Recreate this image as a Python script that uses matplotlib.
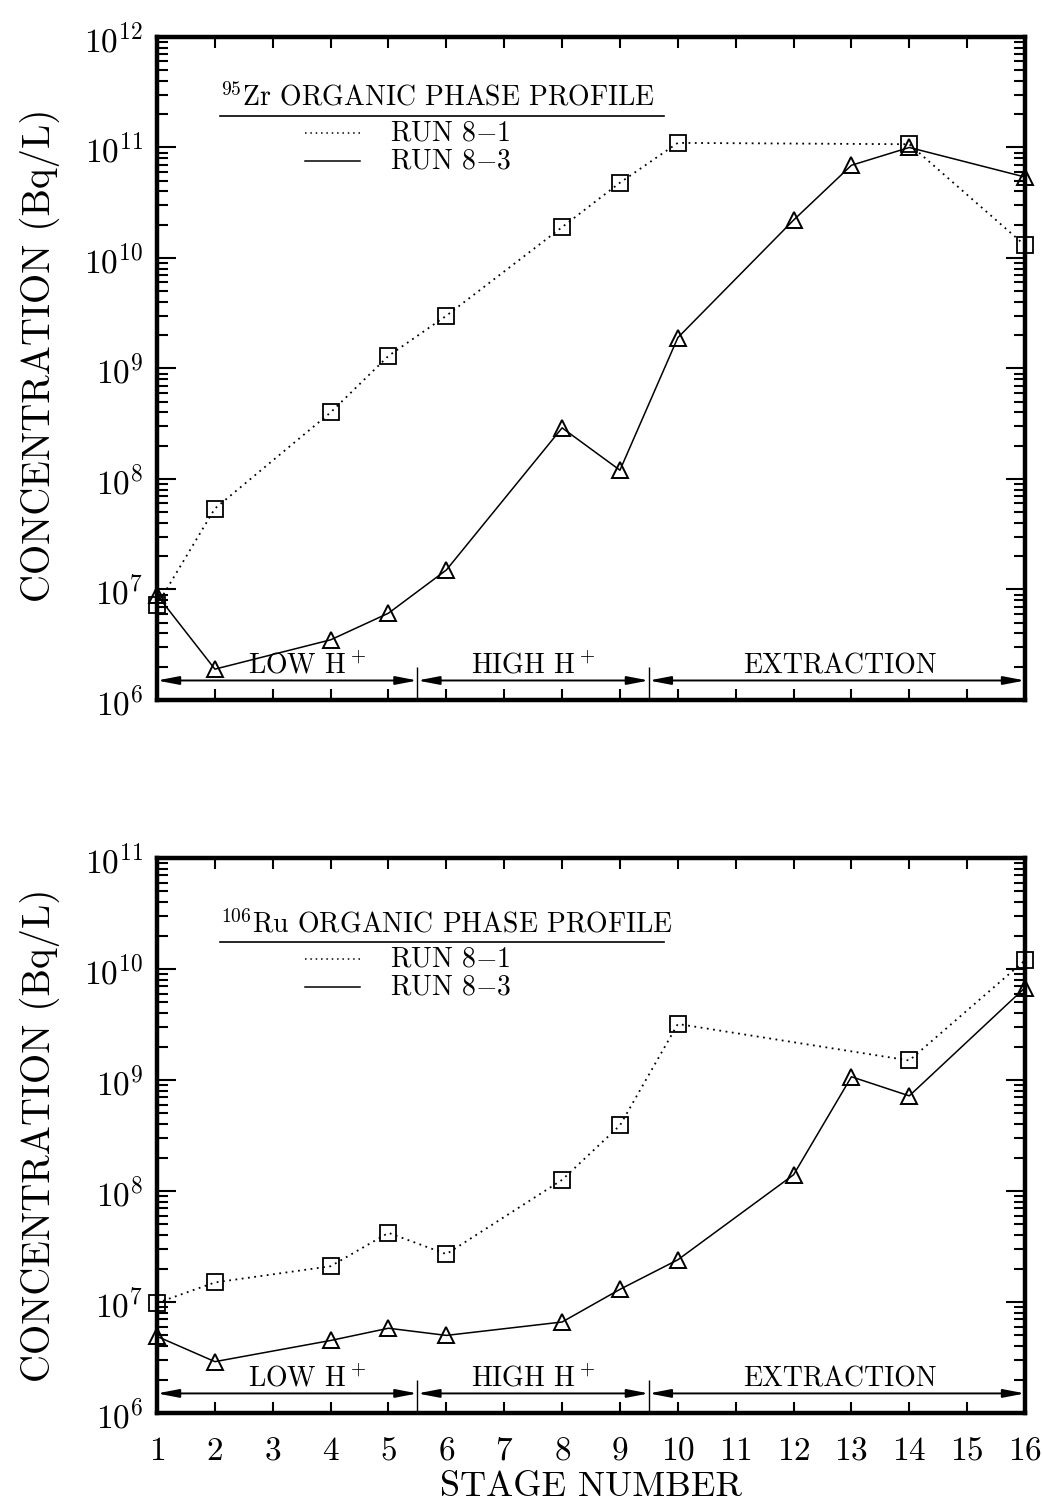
import matplotlib
matplotlib.use('Agg')
import matplotlib.pyplot as plt
from matplotlib.ticker import LogLocator, LogFormatterMathtext, NullFormatter, FixedLocator

plt.rcParams['font.family'] = 'cmr10'
plt.rcParams['mathtext.fontset'] = 'cm'
plt.rcParams['axes.unicode_minus'] = False
plt.rcParams['axes.formatter.use_mathtext'] = True

# stages that were sampled in each run
stages_81 = [1, 2, 4, 5, 6, 8, 9, 10, 14, 16]
stages_83 = [1, 2, 4, 5, 6, 8, 9, 10, 12, 13, 14, 16]

# 95Zr organic phase (Bq/L)
zr_81 = [7.2e6, 5.4e7, 4.0e8, 1.3e9, 3.0e9, 1.9e10, 4.8e10, 1.1e11, 1.07e11, 1.3e10]
zr_83 = [8.9e6, 1.9e6, 3.5e6, 6.1e6, 1.5e7, 2.9e8, 1.2e8, 1.9e9, 2.2e10, 6.9e10, 1.0e11, 5.4e10]

# 106Ru organic phase (Bq/L)
ru_81 = [9.8e6, 1.5e7, 2.1e7, 4.2e7, 2.7e7, 1.26e8, 3.9e8, 3.2e9, 1.5e9, 1.2e10]
ru_83 = [4.9e6, 2.9e6, 4.5e6, 5.8e6, 5.0e6, 6.6e6, 1.3e7, 2.4e7, 1.4e8, 1.07e9, 7.2e8, 6.8e9]

region_names = ['LOW H$^+$', 'HIGH H$^+$', 'EXTRACTION']
region_edges = [1, 5.5, 9.5, 16]
region_label_x = [3.6, 7.5, 12.8]
region_y = 1.5e6

stage_ticks = list(range(1, 17))
run_labels = ['RUN 8$-$1', 'RUN 8$-$3']


def draw_panel(ax, run81, run83, title, ytop, leg_y, ylab_y):
    ax.plot(stages_81, run81, color='k', ls=(0, (1, 2.5)), lw=1.3,
            marker='s', ms=11, mfc='none', mec='k', mew=1.3, clip_on=False)
    ax.plot(stages_83, run83, color='k', ls='-', lw=1.1,
            marker='^', ms=11, mfc='none', mec='k', mew=1.4, clip_on=False)

    ax.set_yscale('log')
    ax.set_xlim(1, 16)
    ax.set_ylim(1e6, ytop)
    ax.xaxis.set_major_locator(FixedLocator(stage_ticks))
    ax.yaxis.set_major_locator(LogLocator(base=10, numticks=20))
    ax.yaxis.set_minor_locator(LogLocator(base=10, subs=range(2, 10), numticks=100))
    ax.yaxis.set_major_formatter(LogFormatterMathtext())
    ax.yaxis.set_minor_formatter(NullFormatter())

    for s in ax.spines.values():
        s.set_linewidth(3.2)
    ax.tick_params(which='both', direction='in', top=True, right=True, width=1.5)
    ax.tick_params(axis='y', which='major', length=14, labelsize=24, pad=10)
    ax.tick_params(axis='y', which='minor', length=8)
    ax.tick_params(axis='x', which='major', length=8, labelsize=24, pad=17)

    ax.set_ylabel('CONCENTRATION (Bq/L)', fontsize=28)
    ax.yaxis.set_label_coords(-0.112, ylab_y)

    # process regions along the bottom
    for i, name in enumerate(region_names):
        ax.annotate('', xy=(region_edges[i + 1], region_y), xytext=(region_edges[i], region_y),
                    arrowprops=dict(arrowstyle='<|-|>,head_length=1.3,head_width=0.25',
                                    color='k', lw=1.4, shrinkA=0, shrinkB=0))
        ax.text(region_label_x[i], region_y * 1.03, name, ha='center', va='bottom', fontsize=20)
    ax.vlines(region_edges[1:3], 1e6, 2e6, color='k', lw=1)

    # legend drawn by hand
    ax.text(0.0726, leg_y + 0.006, title, transform=ax.transAxes, fontsize=20,
            ha='left', va='bottom')
    ax.plot([0.0726, 0.584], [leg_y, leg_y], transform=ax.transAxes, color='k', lw=1.2)
    dy = 0.043 * 0.4411 / ax.get_position().height
    for j, (lbl, ls) in enumerate(zip(run_labels, [(0, (1, 2.5)), '-'])):
        yy = leg_y - dy * (j + 0.6)
        ax.plot([0.170, 0.234], [yy, yy], transform=ax.transAxes, color='k', ls=ls, lw=1.1)
        ax.text(0.268, yy, lbl, transform=ax.transAxes, fontsize=20, ha='left', va='center')


fig = plt.figure(figsize=(10.42, 15.03), dpi=100)
ax1 = fig.add_axes([0.1507, 0.5343, 0.833, 0.4411])
ax2 = fig.add_axes([0.1507, 0.0599, 0.833, 0.3692])

draw_panel(ax1, zr_81, zr_83, '$^{95}$Zr ORGANIC PHASE PROFILE', 1e12, 0.881, 0.52)
draw_panel(ax2, ru_81, ru_83, '$^{106}$Ru ORGANIC PHASE PROFILE', 1e11, 0.849, 0.5)

ax1.tick_params(axis='x', labelbottom=False)
ax2.set_xlabel('STAGE NUMBER', fontsize=26, labelpad=4)

fig.savefig('out.png', dpi=100)
